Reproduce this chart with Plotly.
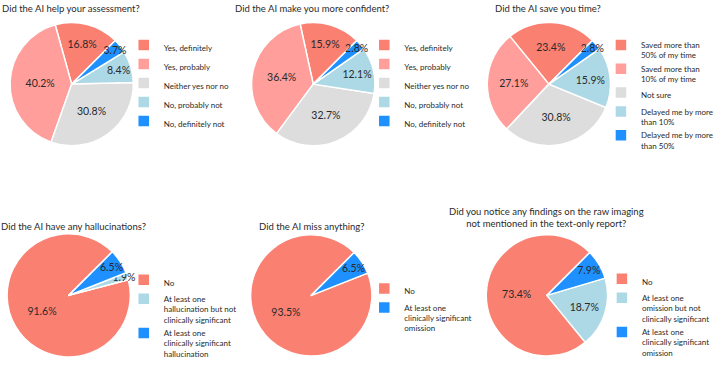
import plotly.graph_objects as go

W, H = 719, 366

# ---- data ----
titles = [
    "Did the AI help your assessment?",
    "Did the AI make you more confident?",
    "Did the AI save you time?",
    "Did the AI have any hallucinations?",
    "Did the AI miss anything?",
    "Did you notice any findings on the raw imaging<br>not mentioned in the text-only report?",
]
labels_q1 = ["Yes, definitely", "Yes, probably", "Neither yes nor no", "No, probably not", "No, definitely not"]
values_q1 = [16.8, 40.2, 30.8, 8.4, 3.7]
labels_q2 = ["Yes, definitely", "Yes, probably", "Neither yes nor no", "No, probably not", "No, definitely not"]
values_q2 = [15.9, 36.4, 32.7, 12.1, 2.8]
labels_q3 = ["Saved more than<br>50% of my time", "Saved more than<br>10% of my time", "Not sure",
             "Delayed me by more<br>than 10%", "Delayed me by more<br>than 50%"]
values_q3 = [23.4, 27.1, 30.8, 15.9, 2.8]
labels_q4 = ["No", "At least one<br>hallucination but not<br>clinically significant",
             "At least one<br>clinically significant<br>hallucination"]
values_q4 = [91.6, 1.9, 6.5]
labels_q5 = ["No", "At least one<br>clinically significant<br>omission"]
values_q5 = [93.5, 6.5]
labels_q6 = ["No", "At least one<br>omission but not<br>clinically significant",
             "At least one<br>clinically significant<br>omission"]
values_q6 = [73.4, 18.7, 7.9]

# ---- styling ----
SALMON, PINK, GREY, LBLUE, BLUE = "#FA8072", "#FF9E9B", "#DDDDDD", "#ADD8E6", "#1E90FF"
colors5 = [SALMON, PINK, GREY, LBLUE, BLUE]
colors_q4 = [SALMON, LBLUE, BLUE]
colors_q5 = [SALMON, BLUE]
colors_q6 = [SALMON, LBLUE, BLUE]

FONT = "Lato"
TXT = "#2a2a2a"

# panel geometry in pixels: centre x, centre y, radius, legend x, legend top y, title x, title top y
panels = [
    dict(cx=73, cy=86, r=63, lx=126, ly=34, tx=72, ty=1),
    dict(cx=319, cy=86, r=63, lx=371, ly=34, tx=318, ty=1),
    dict(cx=559, cy=86, r=63, lx=612, ly=34, tx=558, ty=1),
    dict(cx=70, cy=302, r=63, lx=126, ly=274, tx=75, ty=224),
    dict(cx=317, cy=302, r=62, lx=371, ly=283, tx=318, ty=224),
    dict(cx=557, cy=302, r=62, lx=613, ly=273, tx=557, ty=209),
]

data = [
    (labels_q1, values_q1, colors5),
    (labels_q2, values_q2, colors5),
    (labels_q3, values_q3, colors5),
    (labels_q4, values_q4, colors_q4),
    (labels_q5, values_q5, colors_q5),
    (labels_q6, values_q6, colors_q6),
]

fig = go.Figure()
annotations = []
layout_legends = {}
for i, ((labs, vals, cols), p) in enumerate(zip(data, panels)):
    total = sum(vals)
    first_angle = 360.0 * vals[0] / total
    rot = 45 - first_angle
    legname = "legend" if i == 0 else f"legend{i+1}"
    # zero-width suffix keeps each chart's legend entries separate
    uniq = [lab + "\u200b" * i for lab in labs]
    fig.add_trace(go.Pie(
        labels=uniq, values=vals, sort=False, direction="counterclockwise",
        rotation=rot,
        marker=dict(colors=cols, line=dict(color="white", width=1.5)),
        texttemplate="%{value:.1f}%", textposition="inside",
        insidetextorientation="horizontal",
        textfont=dict(family=FONT, size=10.5, color=TXT),
        domain=dict(x=[(p["cx"] - p["r"]) / W, (p["cx"] + p["r"]) / W],
                    y=[1 - (p["cy"] + p["r"]) / H, 1 - (p["cy"] - p["r"]) / H]),
        legend=legname, hoverinfo="label+percent",
    ))
    layout_legends[legname] = dict(
        x=p["lx"] / W, y=1 - p["ly"] / H, xanchor="left", yanchor="top",
        font=dict(family=FONT, size=8, color=TXT), valign="top",
        bgcolor="rgba(0,0,0,0)", itemclick=False, itemdoubleclick=False,
    )
    annotations.append(dict(
        text=titles[i], x=p["tx"] / W, y=1 - p["ty"] / H, xref="paper", yref="paper",
        xanchor="center", yanchor="top", showarrow=False,
        font=dict(family=FONT, size=9.5, color=TXT),
    ))

fig.update_layout(
    width=W, height=H, margin=dict(l=0, r=0, t=0, b=0),
    paper_bgcolor="white", plot_bgcolor="white",
    annotations=annotations,
    uniformtext=dict(minsize=10.5, mode="show"),
    **layout_legends,
)

fig.write_html("out.html")
